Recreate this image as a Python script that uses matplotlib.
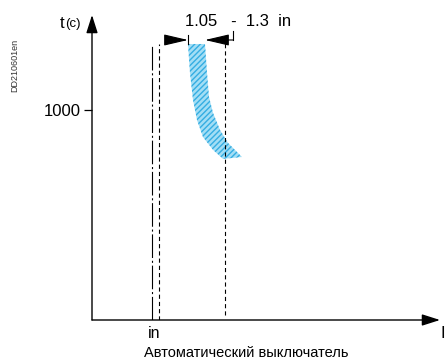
import matplotlib.pyplot as plt

plt.rcParams['font.family'] = ['Liberation Sans', 'DejaVu Sans']
plt.rcParams['lines.scale_dashes'] = False

# Data (schematic units: x = current, y = time)
in_x = 60            # nominal current In
in_dash_x = 67       # dashed line next to In
band_limit_x = 133   # dashed line at 1.3 In
line_top = 1314
tick_1000 = 1000

band_left_x = [96, 98, 101, 105, 111, 121, 131]
band_left_t = [1314, 1176, 1048, 952, 871, 810, 767]
band_right_x = [113, 115, 117, 121, 128, 136, 150]
band_right_t = [1314, 1176, 1062, 986, 905, 843, 776]

range_label = "1.05   -  1.3  in"
x_tick_label = "in"
x_caption = "Автоматический выключатель"
y_label = "t"
y_unit = "(c)"
x_label = "I"
code_label = "DD210601en"

fig = plt.figure(figsize=(4.45, 3.61), dpi=100)
ax = fig.add_axes([92 / 445, 41 / 361, 348 / 445, 305 / 361])
ax.set_xlim(0, 348)
ax.set_ylim(0, 1452)
for s in ax.spines.values():
    s.set_visible(False)
ax.set_xticks([])
ax.set_yticks([tick_1000])
ax.set_yticklabels(["1000"], fontsize=12)
ax.tick_params(axis='y', length=6, width=0.9, pad=2)

# axis arrows
arr = dict(arrowstyle='-|>,head_length=1.1,head_width=0.35', color='black', lw=1.0,
           shrinkA=0, shrinkB=0)
ax.annotate('', xy=(0, 1), xytext=(0, 0), xycoords='axes fraction', arrowprops=arr)
ax.annotate('', xy=(1, 0), xytext=(0, 0), xycoords='axes fraction', arrowprops=arr)

# vertical reference lines
ax.plot([in_x, in_x], [0, line_top], color='black', lw=0.8, dashes=(17, 2, 1.5, 2))
ax.plot([in_dash_x, in_dash_x], [0, line_top], color='black', lw=0.8, dashes=(3, 2.2))
ax.plot([band_limit_x, band_limit_x], [25, 1333], color='black', lw=0.8, dashes=(3, 2.2))

# tripping band
poly_x = band_left_x + band_right_x[::-1]
poly_t = band_left_t + band_right_t[::-1]
ax.fill(poly_x, poly_t, facecolor='#a3def5', edgecolor='#34ade2', lw=0, hatch='//////')

# dimension arrows above band
dim_t = 1333
head = dict(arrowstyle='-|>,head_length=1.5,head_width=0.35', color='black', lw=0.8,
            shrinkA=0, shrinkB=0)
ax.annotate('', xy=(band_left_x[0], dim_t), xytext=(band_left_x[0] - 20, dim_t), arrowprops=head)
ax.annotate('', xy=(band_right_x[0], dim_t), xytext=(band_right_x[0] + 28, dim_t), arrowprops=head)
ax.plot([band_left_x[0], band_left_x[0]], [1314, 1355], color='black', lw=0.8)
ax.plot([band_right_x[0] + 28, band_right_x[0] + 28], [dim_t, 1375], color='black', lw=0.8)

# texts
ax.text(93, 1420, range_label, fontsize=12, ha='left', va='center')
ax.text(-28, 1410, y_label, fontsize=12, ha='right', va='center')
ax.text(-27, 1407, y_unit, fontsize=9.5, ha='left', va='center')
ax.text(in_x - 4, -62, x_tick_label, fontsize=11.5, ha='left', va='center', clip_on=False)
ax.text(154, -158, x_caption, fontsize=10.5, ha='center', va='center', clip_on=False)
ax.text(349, -62, x_label, fontsize=12, ha='left', va='center', clip_on=False)
fig.text(15 / 445, 1 - 65 / 361, code_label, fontsize=6.5, rotation=90, ha='center',
         va='center', color='#333333')

fig.savefig('out.png', dpi=100)
